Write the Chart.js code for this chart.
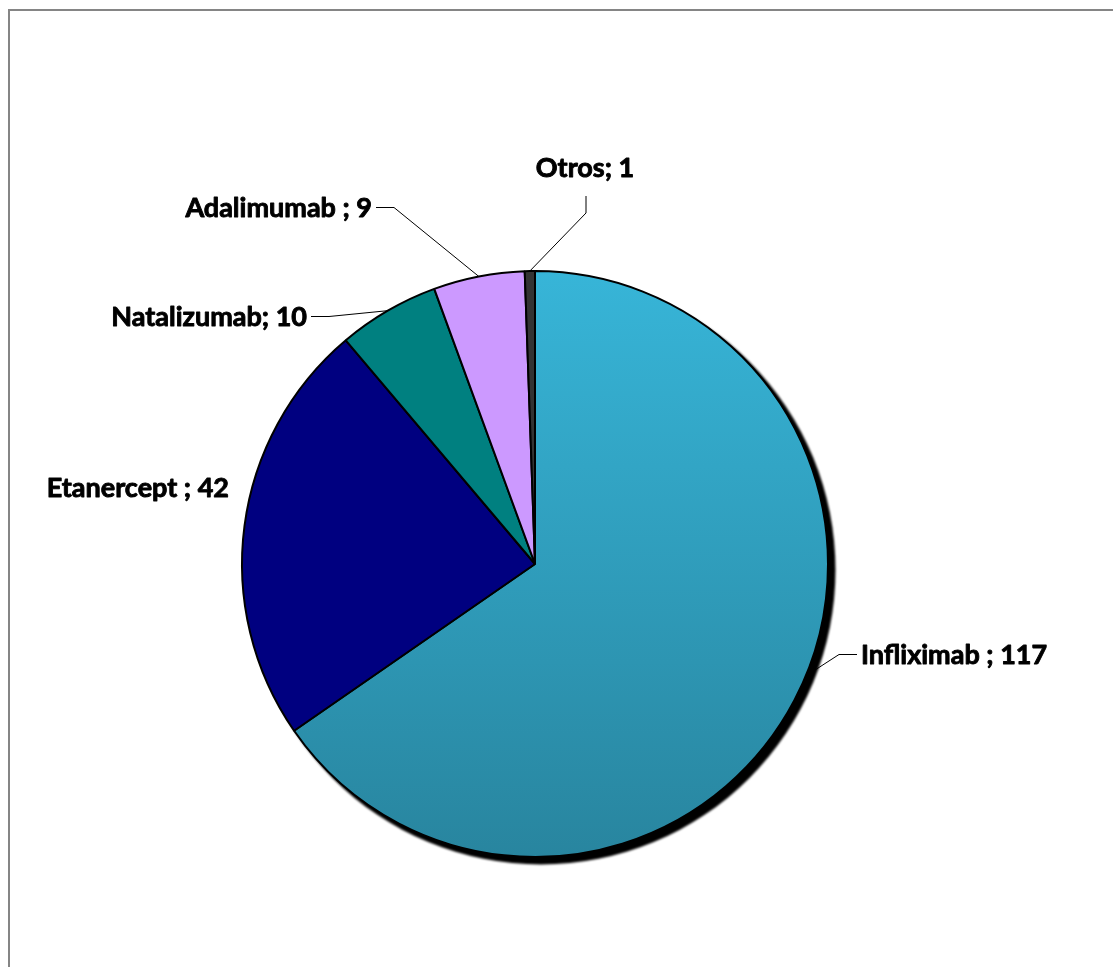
<!DOCTYPE html>
<html>
<head>
<meta charset="utf-8">
<script src="https://cdn.jsdelivr.net/npm/chart.js@4/dist/chart.umd.min.js"></script>
<style>
  html, body { margin: 0; padding: 0; background: #fff; }
  canvas { display: block; }
</style>
</head>
<body>
<canvas id="pieChart" width="1113" height="967"></canvas>
<script>
// Biologic treatments, number of patients
var drugs = ['Infliximab', 'Etanercept', 'Natalizumab', 'Adalimumab', 'Otros'];
var patients = [117, 42, 10, 9, 1];
var labelText = ['Infliximab ; 117', 'Etanercept ; 42', 'Natalizumab; 10', 'Adalimumab ; 9', 'Otros; 1'];

var sliceColors = [null, '#000080', '#008080', '#cc99ff', '#333333'];

// where each label sits, relative to the pie centre (text baseline)
var labelPlace = [
    { dx: 326, dy: 100, align: 'left', leader: 'side', attach: 0.478 },
    { dx: -306, dy: -67, align: 'right', leader: null },
    { dx: -228, dy: -238, align: 'right', leader: 'side' },
    { dx: -163, dy: -347, align: 'right', leader: 'side' },
    { dx: 50, dy: -387, align: 'center', leader: 'top' }
];

var labelFont = 'bold 27px Lato, "Open Sans", sans-serif';

// frame line along the left and top edges
var framePlugin = {
    id: 'frame',
    beforeDraw: function(chart) {
        var ctx = chart.ctx;
        ctx.save();
        ctx.strokeStyle = '#858585';
        ctx.lineWidth = 2;
        ctx.beginPath();
        ctx.moveTo(9, chart.height);
        ctx.lineTo(9, 10);
        ctx.lineTo(chart.width, 10);
        ctx.stroke();
        ctx.restore();
    }
};

// dark drop shadow under the pie
var shadowPlugin = {
    id: 'pieShadow',
    beforeDatasetsDraw: function(chart) {
        var arc = chart.getDatasetMeta(0).data[0];
        if (!arc) return;
        var ctx = chart.ctx;
        ctx.save();
        ctx.filter = 'blur(1px)';
        ctx.fillStyle = '#000';
        ctx.beginPath();
        ctx.arc(arc.x + 6, arc.y + 6, arc.outerRadius + 1.5, 0, Math.PI * 2);
        ctx.fill();
        ctx.restore();
    }
};

// data labels with leader lines
var labelPlugin = {
    id: 'pieLabels',
    afterDatasetsDraw: function(chart) {
        var ctx = chart.ctx;
        var arcs = chart.getDatasetMeta(0).data;
        ctx.save();
        ctx.font = labelFont;
        ctx.fillStyle = '#000';
        ctx.strokeStyle = '#000';
        ctx.lineJoin = 'round';
        arcs.forEach(function(arc, i) {
            var p = labelPlace[i];
            var tx = arc.x + p.dx;
            var ty = arc.y + p.dy;
            ctx.textAlign = p.align;
            ctx.textBaseline = 'alphabetic';
            ctx.lineWidth = 0.9;
            ctx.fillText(labelText[i], tx, ty);
            ctx.strokeText(labelText[i], tx, ty);

            if (!p.leader) return;
            var f = p.attach !== undefined ? p.attach : 0.5;
            var a = arc.startAngle + (arc.endAngle - arc.startAngle) * f;
            var ex = arc.x + Math.cos(a) * arc.outerRadius;
            var ey = arc.y + Math.sin(a) * arc.outerRadius;
            ctx.lineWidth = 1;
            ctx.beginPath();
            if (p.leader === 'top') {
                ctx.moveTo(tx + 1, ty + 19);
                ctx.lineTo(tx + 1, ty + 36);
            } else {
                var dir = p.align === 'left' ? -1 : 1;
                var ly = ty - 9.5;
                ctx.moveTo(tx + dir * 4, ly);
                ctx.lineTo(tx + dir * 22, ly);
            }
            ctx.lineTo(ex, ey);
            ctx.stroke();
        });
        ctx.restore();
    }
};

function sliceColor(context) {
    var i = context.dataIndex;
    if (i !== 0) return sliceColors[i];
    var area = context.chart.chartArea;
    if (!area) return '#31a3c4';
    var cy = (area.top + area.bottom) / 2;
    var g = context.chart.ctx.createLinearGradient(0, cy - 293, 0, cy + 293);
    g.addColorStop(0, '#37b5d8');
    g.addColorStop(1, '#28859f');
    return g;
}

var ctx = document.getElementById('pieChart').getContext('2d');
var pieChart = new Chart(ctx, {
    type: 'pie',
    data: {
        labels: drugs,
        datasets: [{
            data: patients,
            backgroundColor: sliceColor,
            borderColor: '#000',
            borderWidth: 2,
            radius: 293
        }]
    },
    options: {
        responsive: false,
        animation: false,
        layout: {
            padding: { left: 200, right: 243, top: 200, bottom: 39 }
        },
        plugins: {
            legend: { display: false },
            tooltip: { enabled: false }
        }
    },
    plugins: [framePlugin, shadowPlugin, labelPlugin]
});
</script>
</body>
</html>
